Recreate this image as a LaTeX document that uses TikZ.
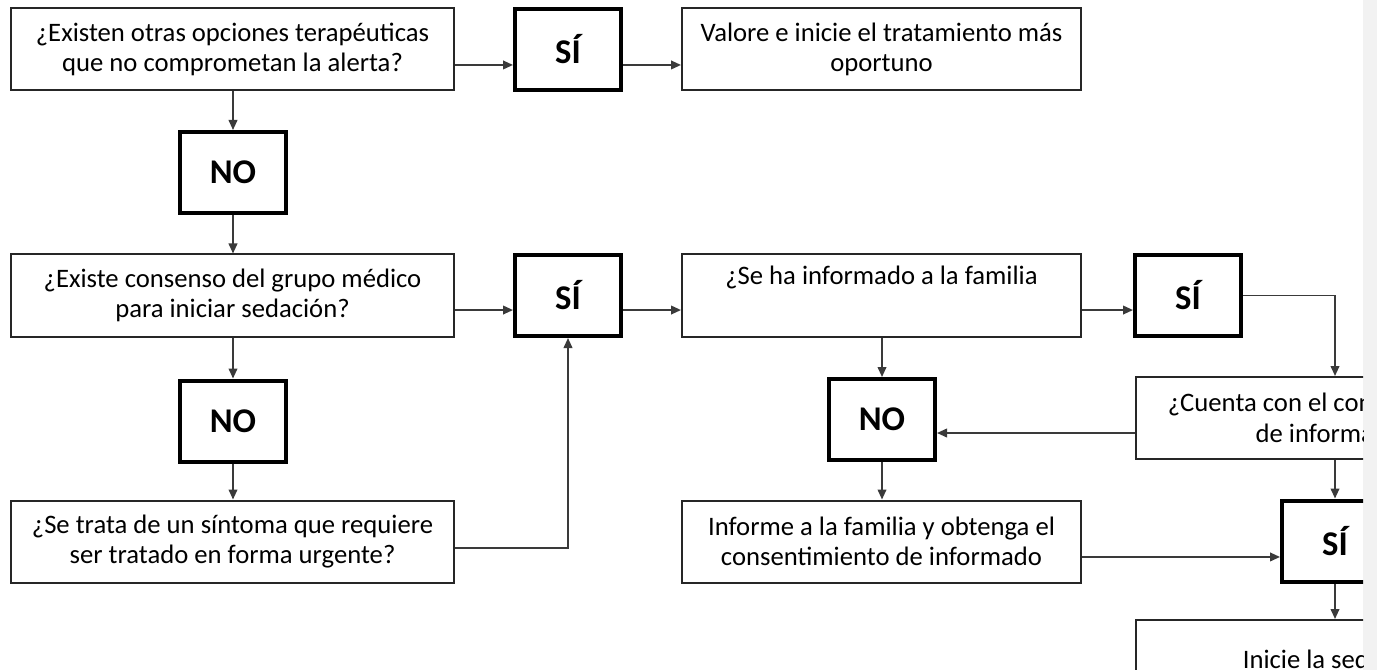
\documentclass[tikz,border=0pt]{standalone}
\usepackage{fontspec}
\setmainfont{Carlito}
\usetikzlibrary{arrows.meta}
\definecolor{linegray}{HTML}{3A3A3A}
\definecolor{stripgray}{HTML}{F2F2F2}

\begin{document}
\begin{tikzpicture}[x=0.75pt, y=-0.75pt,
        box/.style={draw=black!85, line width=1.5pt, align=center, inner sep=0pt,
            font=\fontsize{20}{23}\selectfont},
        wide/.style={box, minimum width=443*0.75pt, minimum height=82*0.75pt},
        mid/.style={box, minimum width=399*0.75pt, minimum height=82*0.75pt},
        answer/.style={draw=black, line width=3pt, inner sep=0pt, minimum width=106*0.75pt,
            minimum height=81*0.75pt, font=\fontsize{26}{28}\selectfont\bfseries},
        arr/.style={-{Triangle[length=7.5pt,width=6.5pt]}, draw=linegray, line width=1.3pt}]

        \useasboundingbox (0,0) rectangle (1377,670);
        \fill[stripgray] (1363,0) rectangle (1377,670);

        \begin{scope}
        \clip (0,0) rectangle (1363,670);

        % first row
        \node[wide]   (q1)   at (232.5,49.5)  {¿Existen otras opciones terapéuticas\\que no comprometan la alerta?};
        \node[answer] (si1)  at (568,49.5)    {SÍ};
        \node[mid]    (val)  at (881.5,49.5)  {Valore e inicie el tratamiento más\\oportuno};
        \node[answer] (no1)  at (233,172.5)   {NO};

        % second row
        \node[wide]   (q2)   at (232.5,295.5) {¿Existe consenso del grupo médico\\para iniciar sedación?};
        \node[answer] (si2)  at (568,295.5)   {SÍ};
        \node[mid]    (fam)  at (881.5,295.5) {¿Se ha informado a la familia\\ \strut};
        \node[answer] (si3)  at (1188,295.5)  {SÍ};

        % third row
        \node[answer] (noL)  at (233,421)     {NO};
        \node[answer] (no2)  at (882,419.5)   {NO};
        \node[mid]    (cons) at (1335,418)    {¿Cuenta con el consentimiento\\de informado?};

        % fourth row
        \node[wide]   (q3)   at (232.5,541.5) {¿Se trata de un síntoma que requiere\\ser tratado en forma urgente?};
        \node[mid]    (inf)  at (881.5,541.5) {Informe a la familia y obtenga el\\consentimiento de informado};
        \node[answer] (si4)  at (1335,541)    {SÍ};
        \node[mid, minimum height=78*0.75pt] (ini) at (1335,659) {Inicie la sedación};

        % connectors
        \draw[arr] ([yshift=-11.6pt]q1.east) -- ([yshift=-11.6pt]q1.east -| si1.west);
        \draw[arr] ([yshift=-11.6pt]si1.east) -- ([yshift=-11.6pt]si1.east -| val.west);
        \draw[arr] (no1.north |- q1.south) -- (no1.north);
        \draw[arr] (no1.south) -- (no1.south |- q2.north);
        \draw[arr] ([yshift=-10.9pt]q2.east) -- ([yshift=-10.9pt]q2.east -| si2.west);
        \draw[arr] ([yshift=-10.9pt]si2.east) -- ([yshift=-10.9pt]si2.east -| fam.west);
        \draw[arr] ([yshift=-10.9pt]fam.east) -- ([yshift=-10.9pt]fam.east -| si3.west);
        \draw[arr] (si3.east) -| (cons.north);
        \draw[arr] (noL.north |- q2.south) -- (noL.north);
        \draw[arr] (noL.south) -- (noL.south |- q3.north);
        \draw[arr] ([yshift=-4.9pt]q3.east) -| (si2.south);
        \draw[arr] (no2.north |- fam.south) -- (no2.north);
        \draw[arr] ([yshift=-11.25pt]cons.west) -- ([yshift=-11.25pt]cons.west -| no2.east);
        \draw[arr] (no2.south) -- (no2.south |- inf.north);
        \draw[arr] ([yshift=-11.6pt]inf.east) -- ([yshift=-11.6pt]inf.east -| si4.west);
        \draw[arr] (cons.south) -- (cons.south |- si4.north);
        \draw[arr] (si4.south) -- (si4.south |- ini.north);
        \end{scope}
\end{tikzpicture}
\end{document}
